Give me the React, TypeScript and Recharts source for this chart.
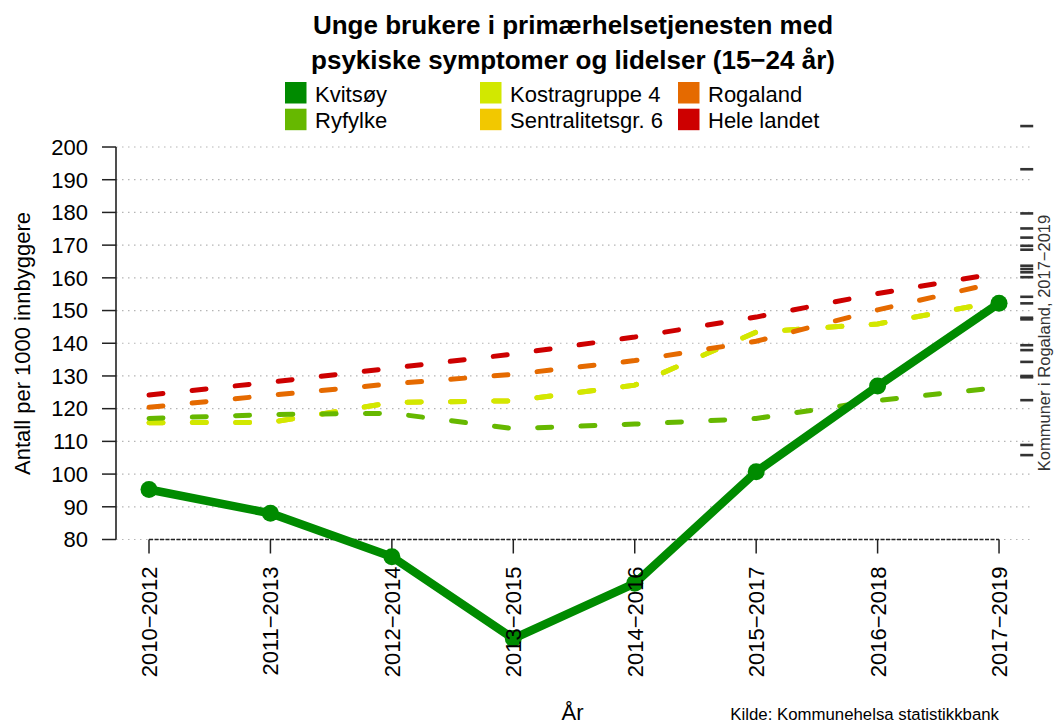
import { ComposedChart, Line, Scatter, XAxis, YAxis, CartesianGrid, ReferenceLine } from "recharts"

const periods = ["2010−2012", "2011−2013", "2012−2014", "2013−2015", "2014−2016", "2015−2017", "2016−2018", "2017−2019"]

const kvitsoy = [95.3, 88.0, 74.7, 49.7, 66.6, 100.7, 126.9, 152.2]
const ryfylke = [117.0, 118.2, 118.6, 113.9, 115.3, 117.0, 122.5, 126.5]
const kostragruppe4 = [115.7, 115.8, 121.9, 122.4, 127.2, 143.4, 145.9, 152.8]
const sentralitet6 = [115.7, 115.8, 121.9, 122.4, 127.2, 143.4, 145.9, 152.8]
const rogaland = [120.4, 124.1, 127.6, 130.5, 134.7, 140.6, 150.2, 158.7]
const heleLandet = [124.2, 128.1, 132.4, 136.7, 141.9, 148.0, 155.2, 161.5]

// kommuner i Rogaland, 2017-2019 (rug on the right)
const kommuner = [206.4, 193.2, 179.7, 175.1, 172.3, 169.8, 168.6, 163.7, 162.7, 161.7, 160.2, 154.2, 152.2, 147.8, 147.3, 139.4, 137.9, 134.3, 130.0, 129.6, 122.6, 108.9, 105.8]

const yTicks = [80, 90, 100, 110, 120, 130, 140, 150, 160, 170, 180, 190, 200]

const X_MIN = -0.2718
const X_MAX = 7.255
const RUG_X = 7.228

const font = "'Liberation Sans', Arial, Helvetica, sans-serif"

const data = periods.map((p, i) => ({
  x: i,
  kvitsoy: kvitsoy[i],
  ryfylke: ryfylke[i],
  kostra: kostragruppe4[i],
  sentral: sentralitet6[i],
  rogaland: rogaland[i],
  hele: heleLandet[i],
}))

const rugData = kommuner.map((v) => ({ x: RUG_X, y: v }))

const legendItems = [
  { name: "Kvitsøy", color: "#008B00", col: 0, row: 0 },
  { name: "Ryfylke", color: "#66B800", col: 0, row: 1 },
  { name: "Kostragruppe 4", color: "#D2E800", col: 1, row: 0 },
  { name: "Sentralitetsgr. 6", color: "#F2C800", col: 1, row: 1 },
  { name: "Rogaland", color: "#E56A00", col: 2, row: 0 },
  { name: "Hele landet", color: "#CD0000", col: 2, row: 1 },
]
const legendCols = [285, 480, 678]

const XTick = (props: any) => {
  const { x, y, payload } = props
  return (
    <text
      transform={`translate(${x + 8},${y}) rotate(-90)`}
      textAnchor="end"
      fontSize={22}
      fontFamily={font}
      fill="#000"
    >
      {periods[payload.value]}
    </text>
  )
}

const RugMark = (props: any) => {
  const { cx, cy } = props
  return <line x1={cx - 6.5} x2={cx + 6.5} y1={cy} y2={cy} stroke="#333" strokeWidth={2.6} />
}

const dashed = { strokeWidth: 5, strokeDasharray: "14 29.3", strokeLinecap: "round" as const }

export default function App() {
  return (
    <div style={{ position: "absolute", left: 0, top: 0, width: 1055, height: 726, background: "#fff" }}>
      {/* Kvitsøy dips below the axis floor; the reference draws it over the labels */}
      <style>{`.recharts-wrapper svg * { clip-path: none !important; }`}</style>
      <ComposedChart
        width={1055}
        height={726}
        data={data}
        margin={{ top: 114.3, right: 25, bottom: 0, left: 0 }}
      >
        <CartesianGrid
          vertical={false}
          horizontalValues={yTicks}
          stroke="#b5b5b5"
          strokeDasharray="1.5 4.5"
          strokeWidth={1.2}
        />
        <XAxis
          dataKey="x"
          type="number"
          domain={[X_MIN, X_MAX]}
          ticks={[0, 1, 2, 3, 4, 5, 6, 7]}
          interval={0}
          height={186.5}
          axisLine={false}
          tickLine={{ stroke: "#222", strokeWidth: 1.5 }}
          tickSize={14}
          tickMargin={13}
          tick={<XTick />}
        />
        <YAxis
          type="number"
          domain={[80, 210]}
          allowDataOverflow
          ticks={yTicks}
          interval={0}
          width={116}
          axisLine={false}
          tickLine={{ stroke: "#222", strokeWidth: 1.5 }}
          tickSize={14}
          tickMargin={14}
          tick={{ fontSize: 22, fontFamily: font, fill: "#000" }}
        />
        <ReferenceLine
          segment={[{ x: X_MIN, y: 80 }, { x: X_MIN, y: 200 }]}
          stroke="#222"
          strokeWidth={1.6}
          ifOverflow="visible"
        />
        <ReferenceLine
          segment={[{ x: 0, y: 80 }, { x: 7, y: 80 }]}
          stroke="#222"
          strokeWidth={1.5}
          strokeDasharray="4 1.5"
          ifOverflow="visible"
        />
        <Line dataKey="sentral" stroke="#F2C800" {...dashed} dot={false} activeDot={false} isAnimationActive={false} />
        <Line dataKey="kostra" stroke="#D2E800" {...dashed} dot={false} activeDot={false} isAnimationActive={false} />
        <Line dataKey="rogaland" stroke="#E56A00" {...dashed} dot={false} activeDot={false} isAnimationActive={false} />
        <Line dataKey="hele" stroke="#CD0000" {...dashed} dot={false} activeDot={false} isAnimationActive={false} />
        <Line dataKey="ryfylke" stroke="#66B800" {...dashed} dot={false} activeDot={false} isAnimationActive={false} />
        <Line
          dataKey="kvitsoy"
          stroke="#008B00"
          strokeWidth={8.5}
          strokeLinejoin="round"
          dot={{ r: 8.5, fill: "#008B00", stroke: "none" }}
          activeDot={false}
          isAnimationActive={false}
          zIndex={900}
        />
        <Scatter data={rugData} dataKey="y" shape={<RugMark />} isAnimationActive={false} />
      </ComposedChart>

      <svg
        width={1055}
        height={726}
        style={{ position: "absolute", left: 0, top: 0, pointerEvents: "none" }}
        fontFamily={font}
      >
        <text x={573} y={34} textAnchor="middle" fontSize={26} fontWeight="bold" fill="#000">
          Unge brukere i primærhelsetjenesten med
        </text>
        <text x={573} y={69} textAnchor="middle" fontSize={26} fontWeight="bold" fill="#000">
          psykiske symptomer og lidelser (15−24 år)
        </text>
        {legendItems.map((it) => (
          <g key={it.name}>
            <rect x={legendCols[it.col]} y={82 + it.row * 26.7} width={21.5} height={21.5} fill={it.color} />
            <text x={legendCols[it.col] + 30} y={101.5 + it.row * 26.7} fontSize={22} fill="#000">
              {it.name}
            </text>
          </g>
        ))}
        <text transform="translate(30,343.5) rotate(-90)" textAnchor="middle" fontSize={22} fill="#000">
          Antall per 1000 innbyggere
        </text>
        <text x={572.5} y={720} textAnchor="middle" fontSize={22} fill="#000">
          År
        </text>
        <text x={999} y={720} textAnchor="end" fontSize={16.8} fill="#000">
          Kilde: Kommunehelsa statistikkbank
        </text>
        <text transform="translate(1050,343) rotate(-90)" textAnchor="middle" fontSize={16.5} fill="#333">
          Kommuner i Rogaland, 2017−2019
        </text>
      </svg>
    </div>
  )
}
